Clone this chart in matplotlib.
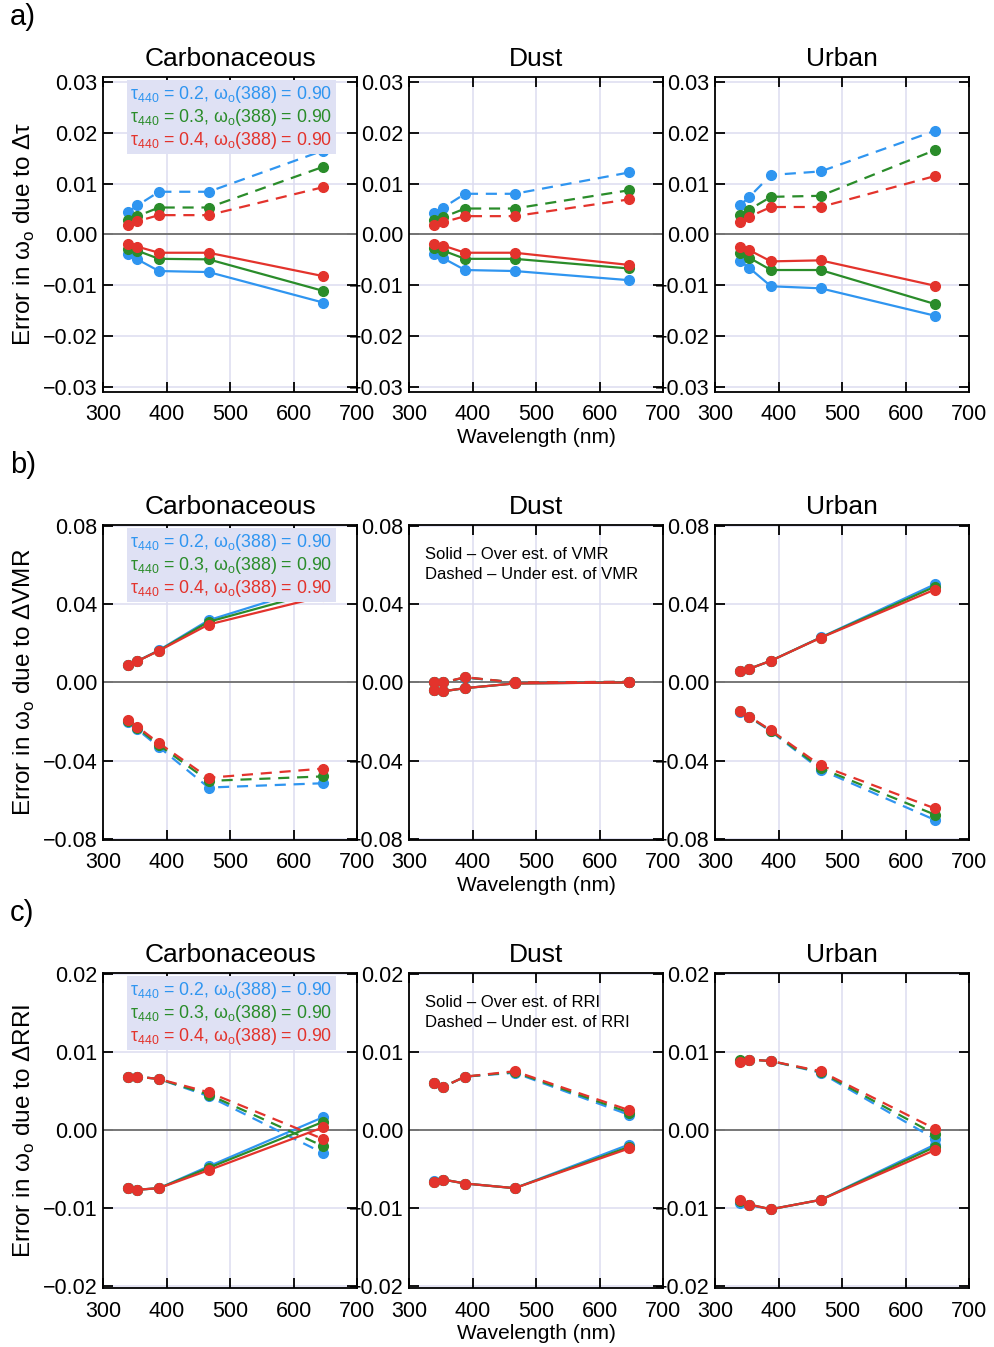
import matplotlib.pyplot as plt
from matplotlib.lines import Line2D
from matplotlib.ticker import FuncFormatter

plt.rcParams['font.family'] = ['Liberation Sans', 'DejaVu Sans']
plt.rcParams['mathtext.fontset'] = 'custom'
plt.rcParams['mathtext.rm'] = 'Liberation Sans'

# ---------------- data ----------------
wavelength = [340, 354, 388, 466, 646]
colors = ['#2f95f0', '#2a8c2a', '#e3332c']          # tau440 = 0.2, 0.3, 0.4
legend_labels = ['\u03c4$_\\mathrm{440}$ = 0.2, \u03c9$_\\mathrm{o}$(388) = 0.90',
                 '\u03c4$_\\mathrm{440}$ = 0.3, \u03c9$_\\mathrm{o}$(388) = 0.90',
                 '\u03c4$_\\mathrm{440}$ = 0.4, \u03c9$_\\mathrm{o}$(388) = 0.90']
aerosols = ['Carbonaceous', 'Dust', 'Urban']

# a) error due to delta tau  (solid / dashed, each [blue, green, red])
tau_carb_solid = [[-0.0039, -0.0049, -0.0072, -0.0074, -0.0134],
                  [-0.0028, -0.0032, -0.0048, -0.0049, -0.0111],
                  [-0.0018, -0.0024, -0.0036, -0.0036, -0.0082]]
tau_carb_dash = [[0.0045, 0.0057, 0.0084, 0.0084, 0.0165],
                 [0.0028, 0.0036, 0.0053, 0.0053, 0.0133],
                 [0.0018, 0.0026, 0.0038, 0.0038, 0.0093]]
tau_dust_solid = [[-0.0038, -0.0047, -0.0070, -0.0072, -0.0090],
                  [-0.0026, -0.0032, -0.0048, -0.0048, -0.0067],
                  [-0.0018, -0.0022, -0.0036, -0.0036, -0.0060]]
tau_dust_dash = [[0.0043, 0.0053, 0.0080, 0.0080, 0.0122],
                 [0.0028, 0.0034, 0.0051, 0.0051, 0.0087],
                 [0.0018, 0.0024, 0.0036, 0.0036, 0.0069]]
tau_urb_solid = [[-0.0053, -0.0066, -0.0102, -0.0106, -0.0160],
                 [-0.0036, -0.0046, -0.0070, -0.0070, -0.0137],
                 [-0.0024, -0.0031, -0.0053, -0.0051, -0.0101]]
tau_urb_dash = [[0.0058, 0.0074, 0.0117, 0.0124, 0.0204],
                [0.0039, 0.0049, 0.0074, 0.0076, 0.0166],
                [0.0025, 0.0035, 0.0054, 0.0054, 0.0115]]

# b) error due to delta VMR
vmr_carb_solid = [[0.0091, 0.0109, 0.0165, 0.0318, 0.0500],
                  [0.0091, 0.0109, 0.0163, 0.0310, 0.0470],
                  [0.0091, 0.0109, 0.0162, 0.0296, 0.0440]]
vmr_carb_dash = [[-0.0200, -0.0240, -0.0330, -0.0537, -0.0515],
                 [-0.0195, -0.0232, -0.0320, -0.0503, -0.0480],
                 [-0.0192, -0.0226, -0.0310, -0.0487, -0.0440]]
vmr_dust_solid = [[-0.0037, -0.0045, -0.0029, -0.0005, 0.0000],
                  [-0.0037, -0.0045, -0.0029, -0.0005, 0.0000],
                  [-0.0037, -0.0045, -0.0029, -0.0005, 0.0000]]
vmr_dust_dash = [[0.0000, 0.0000, 0.0025, 0.0000, 0.0003],
                 [0.0000, 0.0000, 0.0026, 0.0000, 0.0003],
                 [0.0000, 0.0000, 0.0027, 0.0000, 0.0003]]
vmr_urb_solid = [[0.0056, 0.0070, 0.0111, 0.0230, 0.0502],
                 [0.0056, 0.0070, 0.0111, 0.0229, 0.0490],
                 [0.0056, 0.0070, 0.0111, 0.0228, 0.0475]]
vmr_urb_dash = [[-0.0150, -0.0178, -0.0250, -0.0446, -0.0703],
                [-0.0147, -0.0176, -0.0247, -0.0438, -0.0676],
                [-0.0145, -0.0174, -0.0245, -0.0424, -0.0644]]

# c) error due to delta RRI
rri_carb_solid = [[-0.0074, -0.0076, -0.0074, -0.0046, 0.0017],
                  [-0.0074, -0.0076, -0.0074, -0.0048, 0.0011],
                  [-0.0074, -0.0076, -0.0074, -0.0051, 0.0004]]
rri_carb_dash = [[0.0069, 0.0069, 0.0066, 0.0044, -0.0029],
                 [0.0069, 0.0069, 0.0066, 0.0046, -0.0020],
                 [0.0069, 0.0069, 0.0066, 0.0049, -0.0011]]
rri_dust_solid = [[-0.0065, -0.0063, -0.0068, -0.0074, -0.0018],
                  [-0.0066, -0.0063, -0.0068, -0.0074, -0.0021],
                  [-0.0066, -0.0063, -0.0068, -0.0074, -0.0023]]
rri_dust_dash = [[0.0061, 0.0056, 0.0069, 0.0074, 0.0020],
                 [0.0061, 0.0056, 0.0069, 0.0075, 0.0023],
                 [0.0061, 0.0056, 0.0069, 0.0076, 0.0026]]
rri_urb_solid = [[-0.0093, -0.0096, -0.0101, -0.0089, -0.0018],
                 [-0.0091, -0.0095, -0.0101, -0.0089, -0.0021],
                 [-0.0089, -0.0095, -0.0101, -0.0089, -0.0025]]
rri_urb_dash = [[0.0089, 0.0091, 0.0089, 0.0074, -0.0011],
                [0.0090, 0.0091, 0.0089, 0.0075, -0.0005],
                [0.0088, 0.0091, 0.0089, 0.0076, 0.0002]]

rows = [
    ('a)', 'Error in \u03c9$_\\mathrm{o}$ due to \u0394\u03c4', 0.031, [0.03, 0.02, 0.01, 0.0, -0.01, -0.02, -0.03],
     [(tau_carb_solid, tau_carb_dash), (tau_dust_solid, tau_dust_dash), (tau_urb_solid, tau_urb_dash)], None),
    ('b)', 'Error in \u03c9$_\\mathrm{o}$ due to \u0394VMR', 0.0805, [0.08, 0.04, 0.0, -0.04, -0.08],
     [(vmr_carb_solid, vmr_carb_dash), (vmr_dust_solid, vmr_dust_dash), (vmr_urb_solid, vmr_urb_dash)], 'VMR'),
    ('c)', 'Error in \u03c9$_\\mathrm{o}$ due to \u0394RRI', 0.0202, [0.02, 0.01, 0.0, -0.01, -0.02],
     [(rri_carb_solid, rri_carb_dash), (rri_dust_solid, rri_dust_dash), (rri_urb_solid, rri_urb_dash)], 'RRI'),
]

# ---------------- layout ----------------
fig = plt.figure(figsize=(9.94, 13.47), dpi=100)
lefts = [0.1036, 0.4115, 0.7193]
bottoms = [0.709, 0.3764, 0.0438]
w, h = 0.256, 0.2339
grid_col = '#dcdcf0'
fmt = FuncFormatter(lambda v, p: ('%.2f' % v).replace('-', '\u2212') if abs(v) > 1e-9 else '0.00')

for r, (letter, ylabel, ylim, yticks, panels, note) in enumerate(rows):
    fig.text(0.01, bottoms[r] + h + 0.0445, letter, fontsize=21, va='center', ha='left')
    for c in range(3):
        ax = fig.add_axes([lefts[c], bottoms[r], w, h])
        solid, dash = panels[c]
        for k in range(3):
            ax.plot(wavelength, solid[k], '-', color=colors[k], lw=1.6, marker='o', ms=7, zorder=3 + k)
            ax.plot(wavelength, dash[k], '--', color=colors[k], lw=1.6, marker='o', ms=7,
                    dashes=(5, 3.5), zorder=3 + k)
        ax.axhline(0, color='#777777', lw=1.4, zorder=2)
        ax.set_xlim(300, 700)
        ax.set_ylim(-ylim, ylim)
        ax.set_xticks([300, 400, 500, 600, 700])
        ax.set_yticks(yticks)
        ax.yaxis.set_major_formatter(fmt)
        for xv in [400, 500, 600]:
            ax.axvline(xv, color=grid_col, lw=1.1, zorder=1)
        for yv in yticks:
            if yv != 0:
                ax.axhline(yv, color=grid_col, lw=1.1, zorder=1)
        ax.tick_params(direction='in', length=7, width=1.3, labelsize=15.5, top=True, right=True)
        ax.tick_params(axis='x', pad=9)
        ax.tick_params(axis='y', pad=4)
        for s in ax.spines.values():
            s.set_linewidth(1.3)
        ax.set_title(aerosols[c], fontsize=19, pad=8)
        if c == 0:
            ax.set_ylabel(ylabel, fontsize=17.5, labelpad=4)
            handles = [Line2D([], [], color=col, linestyle='none') for col in colors]
            leg = ax.legend(handles, legend_labels, loc='upper left', bbox_to_anchor=(0.08, 1.0),
                            handlelength=0, handletextpad=0, labelcolor='linecolor', fontsize=12.8,
                            facecolor='#dfe1f4', edgecolor='none', framealpha=1, fancybox=False,
                            borderpad=0.2, labelspacing=0.1, borderaxespad=0.2)
            leg.set_zorder(10)
        if c == 1:
            ax.set_xlabel('Wavelength (nm)', fontsize=15, labelpad=2)
            if note:
                ax.text(0.063, 0.93, 'Solid \u2013 Over est. of %s\nDashed \u2013 Under est. of %s' % (note, note),
                        transform=ax.transAxes, fontsize=12, va='top', ha='left', linespacing=1.45)

fig.savefig('out.png', dpi=100)
